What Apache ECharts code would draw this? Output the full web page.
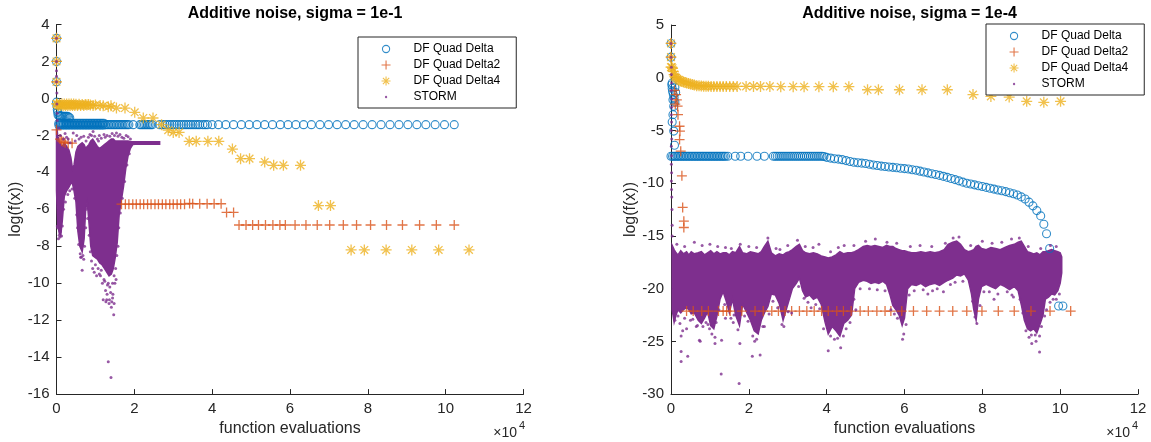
<!DOCTYPE html>
<html><head><meta charset="utf-8">
<style>html,body{margin:0;padding:0;background:#fff}#c{width:1151px;height:442px}</style>
<script src="https://cdn.jsdelivr.net/npm/echarts@6/dist/echarts.min.js"></script>
</head><body><div id="c"></div>
<script>
// ---------- text ----------
const seriesNames = ['DF Quad Delta', 'DF Quad Delta2', 'DF Quad Delta4', 'STORM'];
const titles = ['Additive noise, sigma = 1e-1', 'Additive noise, sigma = 1e-4'];
const xName = 'function evaluations';
const yName = 'log(f(x))';
const xTickLabels = ['0', '2', '4', '6', '8', '10', '12'];

// ---------- left panel (sigma = 1e-1) ----------
const deltaL = [
  [0,3.25],[0,2.0],[0,0.9],[0,-0.2],[100,-0.4],[200,-0.6],[300,-0.75],[400,-0.9],
  [700,-0.95],[1000,-0.95],[1300,-0.95],[1600,-0.97],[1900,-0.97],[2200,-0.97],[2500,-0.97],[2800,-0.97],[3100,-1.0],[3400,-1.05],
  [600,-1.34],[1000,-1.34],[1400,-1.34],[1800,-1.34],[2200,-1.34],[2600,-1.34],[3000,-1.34],[3400,-1.34],[3800,-1.34],[4200,-1.34],
  [4600,-1.34],[5000,-1.34],[5400,-1.34],[5800,-1.34],[6200,-1.34],[6600,-1.34],[7000,-1.34],[7400,-1.34],[7800,-1.34],[8200,-1.34],
  [8600,-1.34],[9000,-1.34],[9400,-1.34],[9800,-1.34],[10200,-1.34],[10600,-1.34],[11000,-1.34],[11400,-1.34],[11800,-1.34],[12200,-1.34],
  [600,-1.44],[1000,-1.44],[1400,-1.44],[1800,-1.44],[2200,-1.44],[2600,-1.44],[3000,-1.44],[3400,-1.44],[3800,-1.44],[4200,-1.44],
  [4600,-1.44],[5000,-1.44],[5400,-1.44],[5800,-1.44],[6200,-1.44],[6600,-1.44],[7000,-1.44],[7400,-1.44],[7800,-1.44],[8200,-1.44],
  [8600,-1.44],[9000,-1.44],[9400,-1.44],[9800,-1.44],[10200,-1.44],[10600,-1.44],[11000,-1.44],[11400,-1.44],[11800,-1.44],[12200,-1.44],
  [12600,-1.42],[13000,-1.42],[13400,-1.42],[13800,-1.42],[14200,-1.42],[14600,-1.42],[15000,-1.42],[15400,-1.42],[15800,-1.42],
  [16200,-1.42],[16600,-1.42],[17000,-1.42],[17400,-1.42],[17800,-1.42],[18200,-1.42],[18600,-1.42],
  [19700,-1.42],[21400,-1.42],[21800,-1.42],[22200,-1.42],[22600,-1.42],[23000,-1.42],[23400,-1.42],[23800,-1.42],[24200,-1.42],[24600,-1.42],
  [26500,-1.42],[27300,-1.42],[27900,-1.42],[28500,-1.42],[29100,-1.42],[29700,-1.42],[30300,-1.42],[30900,-1.42],[31500,-1.42],
  [32100,-1.42],[32700,-1.42],[33300,-1.42],[33900,-1.42],[34500,-1.42],[35100,-1.42],[35700,-1.42],[36300,-1.42],[36800,-1.42],
  [37600,-1.42],[38200,-1.42],[38800,-1.42],[40000,-1.42],
  [41600,-1.42],[43500,-1.42],[45500,-1.42],[47500,-1.42],[49500,-1.42],[51500,-1.42],[53500,-1.42],[55500,-1.42],[57500,-1.42],
  [59500,-1.42],[61500,-1.42],[63500,-1.42],[65500,-1.42],[67700,-1.42],[69900,-1.42],[72100,-1.42],[74300,-1.42],[76500,-1.42],
  [78800,-1.42],[81100,-1.42],[83400,-1.42],[85700,-1.42],[88000,-1.42],[90300,-1.42],[92600,-1.42],[94900,-1.42],[97300,-1.42],
  [99700,-1.42],[102200,-1.42]
];
const delta2L = [
  [0,3.25],[0,2.0],[0,0.9],[0,-1.7],[900,-2.2],[1300,-2.3],[1700,-2.35],[2200,-2.4],[3000,-2.42],[4000,-2.42],
  [16700,-5.72],[17700,-5.72],[18600,-5.72],[19600,-5.72],[20500,-5.72],[21500,-5.72],[22400,-5.72],[23400,-5.72],[24300,-5.72],
  [25300,-5.72],[26200,-5.72],[27200,-5.72],[28100,-5.72],[29100,-5.72],[30000,-5.72],[31000,-5.72],[31900,-5.72],[32900,-5.72],
  [34200,-5.68],[35000,-5.7],[36800,-5.7],[38700,-5.7],[40500,-5.7],[42300,-5.7],
  [43700,-6.17],[45500,-6.17],
  [46900,-6.85],[48700,-6.85],[50400,-6.85],[51900,-6.85],[53700,-6.85],[55600,-6.85],[57400,-6.85],[58800,-6.85],[61300,-6.85],
  [64100,-6.85],[67000,-6.85],[70200,-6.85],[73700,-6.85],[77100,-6.85],[80700,-6.85],[84800,-6.85],[88900,-6.85],[93300,-6.85],
  [97600,-6.85],[102200,-6.85]
];
const delta4L = [
  [0,3.25],[0,2.0],[0,0.9],[0,-0.3],[200,-0.3],[500,-0.38],[800,-0.3],[1100,-0.38],[1400,-0.3],[1700,-0.38],[2000,-0.3],[2300,-0.38],
  [2600,-0.3],[2900,-0.38],[3200,-0.3],[3500,-0.38],[3800,-0.3],[4100,-0.38],[4400,-0.3],[4700,-0.38],[5000,-0.32],[5400,-0.38],
  [5800,-0.32],[6200,-0.38],[6600,-0.33],[7000,-0.38],[7400,-0.33],[7800,-0.36],[8200,-0.33],[8700,-0.36],[9400,-0.38],[10000,-0.36],
  [11200,-0.38],[12000,-0.4],[13300,-0.45],[14000,-0.4],[15400,-0.52],[17600,-0.52],[20100,-0.75],[22300,-1.06],[24800,-1.06],
  [27000,-1.42],[28700,-1.72],[30000,-1.84],[31500,-1.84],[34100,-2.32],[35900,-2.32],[38900,-2.32],[41700,-2.32],[45200,-2.74],
  [47300,-3.26],[49600,-3.26],[53500,-3.44],[55800,-3.62],[58300,-3.62],[62700,-3.62],[67300,-5.8],[70400,-5.8],
  [75700,-8.2],[79100,-8.2],[84700,-8.2],[91300,-8.2],[98200,-8.2],[106000,-8.2]
];
// STORM left: dense cloud envelope [x, top, bottom] and individual dots
const stormCloudL = [
  [0,-1.3,-5.0],[300,-2.0,-6.8],[700,-2.3,-7.3],[1100,-2.5,-7.4],[1500,-2.6,-6.6],[2000,-2.4,-5.3],[2600,-2.6,-5.0],
  [3200,-2.8,-4.8],[3700,-3.2,-4.6],[4100,-3.8,-4.6],[4500,-3.6,-5.0],[5000,-2.9,-5.6],[5500,-2.6,-7.2],[6000,-2.5,-8.0],
  [6600,-2.4,-8.3],[7100,-2.5,-7.6],[7500,-2.7,-6.0],[7900,-2.6,-5.6],[8300,-2.5,-6.6],[8800,-2.3,-8.0],[9300,-2.2,-8.5],
  [9900,-2.4,-8.6],[10500,-2.6,-8.7],[11100,-2.7,-8.9],[11700,-2.6,-9.0],[12300,-2.5,-9.2],[12900,-2.4,-9.4],[13500,-2.3,-9.6],
  [14100,-2.2,-9.5],[14600,-2.2,-9.2],[15100,-2.3,-8.6],[15600,-2.3,-7.8],[16100,-2.3,-6.3],[16600,-2.3,-5.6],[17200,-2.3,-4.8],
  [17800,-2.3,-3.8],[18400,-2.3,-3.1],[19000,-2.34,-2.7],[19600,-2.34,-2.5],[20200,-2.34,-2.48],[26500,-2.34,-2.48]
];
const stormDotsL = [
  [0,3.25],[0,2.0],[0,0.9],[0,1.5],[0,1.2],[100,0.3],[100,-0.3],[200,-0.8],[200,-1.2],
  [11300,-9.6],[11800,-10.0],[12200,-9.8],[12600,-10.4],[12900,-10.9],[13300,-10.0],[13600,-10.9],[13900,-10.5],[14200,-11.0],
  [14500,-10.6],[14700,-11.7],[15000,-10.0],[15300,-9.8],[12000,-10.9],[10300,-9.6],[9700,-9.4],[13300,-14.25],[14000,-15.1],
  [6600,-9.3],[6200,-8.6],[7000,-8.7],[900,-7.5],[1300,-7.45],[300,-7.0],
  [4300,-1.87],[9400,-1.79],[15400,-1.87],[18400,-2.08],[2200,-1.9],[7000,-2.05],[11500,-2.15],[13000,-2.0],[3000,-2.2],
  [5800,-2.2],[8200,-2.1],[10500,-2.2],[12500,-2.1],[16800,-2.1],[600,-1.6],[1000,-2.0],
  [1800,-2.2],[2600,-2.1],[3500,-2.4],[4800,-2.3],[5200,-2.0],[6300,-2.1],[7600,-2.3],[8600,-1.95],[9000,-2.0],[9800,-2.05],
  [10800,-2.3],[11000,-2.0],[12200,-1.95],[13700,-2.05],[14300,-1.9],[14900,-2.0],[15800,-2.05],[16300,-1.95],[17300,-2.15],
  [17900,-2.0],[19000,-2.2],
  [200,-6.9],[500,-7.6],[700,-7.4],[1000,-7.2],[1500,-6.9],[1800,-6.0],[2300,-5.6],[2900,-5.2],[3400,-5.0],[4000,-4.9],
  [4700,-5.4],[5200,-6.3],[5400,-7.0],[5700,-7.9],[6100,-8.4],[6400,-8.6],[6800,-8.5],[7200,-8.0],[7500,-7.0],[7700,-6.0],
  [8000,-6.5],[8400,-7.4],[8700,-8.3],[9000,-8.8],[9300,-9.2],[10000,-9.0],[10700,-9.2],[11000,-9.5],[11500,-9.3],[12400,-9.9],
  [13100,-10.1],[13700,-10.2],[14400,-10.0],[14800,-9.6],[15200,-9.2],[15500,-8.5],[15800,-8.0],[16000,-7.0],[16400,-6.2],
  [16900,-5.4],[17500,-4.5],[18100,-3.6],[18700,-3.0],[12700,-11.0],[13500,-11.1],[14100,-11.3],[14800,-11.1],[13000,-10.6],
  [14400,-10.8]
];

// ---------- right panel (sigma = 1e-4) ----------
const deltaR = [
  [0,3.25],[0,1.95],[300,-0.5],[200,-0.66],[400,-1.3],[300,-1.0],[600,-1.6],[500,-2.1],[700,-2.7],[500,-3.5],[300,-4.2],
  [700,-5.06],[900,-6.4],[1000,-0.9],[1200,-1.4],[800,-1.9],[1000,-2.3],
  [0,-7.45],[400,-7.45],[800,-7.45],[1200,-7.45],[1600,-7.45],[2000,-7.45],[2400,-7.45],[2800,-7.45],[3200,-7.45],[3600,-7.45],
  [4000,-7.45],[4400,-7.45],[4800,-7.45],[5200,-7.45],[5600,-7.45],[6000,-7.45],[6400,-7.45],[6800,-7.45],[7200,-7.45],[7600,-7.45],
  [8000,-7.45],[8400,-7.45],[8800,-7.45],[9200,-7.45],[9600,-7.45],[10000,-7.45],[10400,-7.45],[10800,-7.45],[11200,-7.45],
  [11600,-7.45],[12000,-7.45],[12400,-7.45],[12800,-7.45],[13200,-7.45],[13600,-7.45],[14000,-7.45],
  [14600,-7.45],[16500,-7.45],[17900,-7.45],[19800,-7.45],[22100,-7.45],[24000,-7.45],[26300,-7.45],
  [26800,-7.45],[27300,-7.45],[27800,-7.45],[28300,-7.45],[28800,-7.45],[29300,-7.45],[29800,-7.45],[30300,-7.45],[30800,-7.45],
  [31300,-7.45],[31800,-7.45],[32300,-7.45],[32800,-7.45],[33300,-7.45],[33800,-7.45],[34300,-7.45],[34800,-7.45],[35300,-7.45],
  [35800,-7.45],[36300,-7.45],[36800,-7.45],[37300,-7.45],[37800,-7.45],[38300,-7.45],[38800,-7.45],[39300,-7.47],
  [40000,-7.55],[41000,-7.62],[42000,-7.68],[43000,-7.72],[44000,-7.77],[45000,-7.86],[46000,-7.94],[47000,-8.02],[48000,-8.06],
  [49000,-8.1],[50000,-8.14],[51000,-8.2],[52000,-8.27],[53000,-8.33],[54000,-8.38],[55000,-8.42],[56000,-8.46],[57000,-8.5],
  [58000,-8.54],[59000,-8.58],[60000,-8.62],[61000,-8.66],[62000,-8.72],[63000,-8.78],[64000,-8.86],[65000,-8.94],[66000,-9.02],
  [67000,-9.1],[68000,-9.18],[69000,-9.26],[70000,-9.35],[71000,-9.45],[72000,-9.56],[73000,-9.66],[74000,-9.78],[75000,-9.9],
  [76000,-10.0],[77000,-10.08],[78000,-10.16],[79000,-10.24],[80000,-10.32],[81000,-10.4],[82000,-10.48],[83000,-10.56],
  [84000,-10.64],[85000,-10.72],[86000,-10.8],[87000,-10.9],[88000,-11.0],[89000,-11.12],[90000,-11.3],[91000,-11.5],
  [92000,-11.8],[93000,-12.15],[94000,-12.6],[95000,-13.1],[95800,-13.9],[96500,-14.8],[97300,-16.2],[99600,-21.65],[100700,-21.65]
];
const delta2R = [
  [0,3.25],[0,1.95],[900,-1.2],[1300,-1.6],[1500,-2.1],[1100,-2.5],[1700,-2.7],[1800,-3.5],[2200,-4.6],[2300,-5.07],
  [2200,-5.86],[2500,-6.96],[2800,-9.3],[3000,-12.3],[3300,-13.6],[3300,-14.2],
  [4000,-22.13],[5700,-22.13],[7900,-22.13],[9600,-22.13],[12200,-22.13],[13400,-22.13],[14300,-22.13],[15200,-22.13],
  [18200,-22.13],[21600,-22.13],[23700,-22.13],[25900,-22.13],[27600,-22.13],[29300,-22.13],[31000,-22.13],[33000,-22.13],
  [34900,-22.13],[36800,-22.13],[38700,-22.13],[40400,-22.13],[42600,-22.13],[44300,-22.13],[46300,-22.13],[48600,-22.13],
  [50700,-22.13],[52900,-22.13],[55000,-22.13],[56500,-22.13],[59300,-22.13],[62300,-22.13],[65700,-22.13],[69000,-22.13],
  [72400,-22.13],[76000,-22.13],[79900,-22.13],[84100,-22.13],[88200,-22.13],[92500,-22.13],[97400,-22.13],[102700,-22.13]
];
const delta4R = [
  [0,3.25],[0,1.95],[0,1.0],[200,1.0],[400,0.9],[600,0.6],[800,0.3],[1000,0.1],[1300,0.0],[1600,-0.1],[2000,-0.2],[2400,-0.3],
  [2800,-0.35],[3200,-0.4],[3600,-0.45],[4000,-0.5],[4500,-0.55],[5000,-0.6],[5500,-0.65],[6000,-0.7],[6600,-0.75],[7200,-0.75],
  [7800,-0.78],[8400,-0.8],[9000,-0.8],[9600,-0.8],[10300,-0.82],[11000,-0.82],[11800,-0.82],[12600,-0.82],[13400,-0.82],
  [14200,-0.82],[15100,-0.82],[16000,-0.82],[17000,-0.82],[19300,-0.82],[21200,-0.82],[23000,-0.82],[25400,-0.82],[28200,-0.85],
  [31400,-0.85],[34200,-0.85],[38000,-0.85],[41700,-0.85],[45700,-0.85],[50500,-1.14],[53300,-1.14],[58700,-1.14],[64500,-1.14],
  [71000,-1.14],[77600,-1.6],[82200,-1.77],[86900,-1.83],[91400,-2.24],[95800,-2.33],[100100,-2.24]
];
const stormCloudR = [
  [300,-15.9,-22.0],[800,-16.3,-23.2],[1300,-16.6,-22.5],[1800,-16.8,-22.0],[2500,-16.4,-22.3],[3200,-16.7,-22.0],[4000,-16.5,-21.8],
  [4600,-16.8,-22.0],[5200,-16.5,-22.4],[6000,-16.7,-22.3],[7000,-16.6,-23.0],[7800,-16.5,-23.3],[8600,-16.8,-22.8],[9400,-16.6,-22.2],
  [10200,-16.4,-23.5],[11000,-16.7,-23.8],[11800,-16.5,-22.6],[12600,-16.7,-21.0],[13400,-16.6,-20.3],[14200,-16.6,-21.2],
  [15000,-16.8,-22.3],[15800,-16.5,-21.0],[16600,-16.6,-22.5],[17600,-16.0,-23.5],[18400,-16.6,-21.5],[19400,-16.7,-22.2],
  [20400,-16.5,-23.0],[21400,-16.6,-24.0],[22400,-16.7,-24.3],[23200,-16.5,-23.0],[24000,-16.0,-22.3],[24900,-15.5,-21.7],
  [25800,-16.6,-20.5],[26800,-16.9,-20.6],[27800,-16.7,-21.4],[28800,-16.8,-23.0],[29600,-16.6,-22.0],[30400,-16.5,-21.0],
  [31200,-16.3,-20.0],[32200,-16.0,-19.5],[33000,-15.8,-19.0],[33800,-16.4,-20.2],[34600,-16.6,-20.8],[35600,-16.7,-20.6],
  [36600,-16.6,-21.0],[37600,-16.7,-20.8],[38600,-16.9,-21.5],[39600,-17.0,-23.2],[40400,-17.1,-24.3],[41400,-17.0,-23.6],
  [42400,-16.8,-24.0],[43400,-16.5,-24.5],[44400,-16.7,-23.3],[45400,-16.6,-23.0],[46400,-16.6,-22.5],[47200,-16.5,-20.0],
  [48200,-16.3,-19.4],[49400,-16.0,-19.2],[50400,-15.9,-19.3],[51400,-16.0,-19.5],[52400,-15.9,-19.4],[53400,-16.0,-19.5],
  [54400,-16.1,-19.3],[55400,-15.9,-19.6],[56200,-16.0,-20.5],[57000,-16.0,-21.6],[57800,-16.2,-22.0],[58600,-16.3,-22.5],
  [59400,-16.4,-23.5],[60000,-16.4,-22.8],[60800,-16.5,-20.0],[61800,-16.6,-19.6],[63000,-16.6,-19.7],[64200,-16.5,-19.5],
  [65400,-16.6,-19.8],[66600,-16.5,-19.6],[67800,-16.6,-19.5],[69000,-16.5,-19.7],[70200,-16.3,-19.4],[71200,-15.8,-19.2],
  [72400,-15.6,-19.0],[73400,-15.5,-18.7],[74400,-15.8,-18.8],[75400,-16.3,-18.6],[76400,-16.5,-19.2],[77200,-16.4,-20.5],
  [77800,-16.3,-22.0],[78400,-16.0,-23.0],[79000,-15.9,-21.0],[79800,-16.2,-19.8],[81000,-16.3,-19.6],[82200,-16.1,-19.8],
  [83400,-16.2,-20.0],[84600,-16.3,-19.6],[85800,-16.1,-19.8],[87000,-15.9,-20.1],[88200,-15.8,-19.8],[89200,-15.6,-20.2],
  [90000,-15.5,-21.5],[90800,-16.0,-23.0],[91600,-16.5,-23.8],[92400,-16.6,-24.0],[93200,-16.7,-23.8],[94000,-16.6,-24.2],
  [94800,-16.8,-23.4],[95600,-16.5,-22.5],[96200,-16.5,-21.0],[97000,-16.4,-20.8],[97800,-16.3,-20.5],[98600,-16.4,-20.6],
  [99400,-16.5,-20.2],[100000,-16.6,-19.5],[100400,-17.0,-18.5]
];
const stormDotsR = [
  [0,3.25],[0,1.95],[100,1.0],[100,0.3],[150,-0.5],[100,-1.2],[200,-2.0],[150,-2.8],[100,-3.5],[150,-4.2],[100,-5.0],[200,-5.8],
  [100,-6.5],[150,-7.4],[100,-8.2],[150,-9.0],[100,-9.8],[150,-10.6],[200,-11.3],[250,-12.5],[300,-14.0],[300,-15.0],
  [2600,-25.97],[2600,-26.9],[4300,-26.4],[2600,-24.5],[7300,-24.9],[11300,-24.6],[11300,-25.2],[13000,-24.9],[12900,-28.1],
  [17700,-25.2],[17500,-29.0],[20900,-26.4],[22900,-26.3],[21500,-25.0],[7500,-25.0],[3000,-24.0],[4000,-23.8],[6500,-23.6],
  [9500,-23.4],[10500,-24.3],[14000,-22.8],[16000,-23.2],[24000,-23.6],[28500,-23.4],[31000,-22.3],[40400,-25.9],[43600,-25.6],
  [42000,-24.8],[44300,-24.5],[59800,-24.3],[59500,-24.8],[78600,-23.3],[92600,-24.4],[94700,-24.5],[92700,-25.2],[94700,-26.0],
  [93800,-25.0],[96500,-22.0],[36000,-21.8],[47500,-22.0],[56500,-22.0],[66000,-20.5],[70000,-20.3],[83000,-21.0],[88000,-20.8],
  [6000,-15.6],[17800,-15.8],[24900,-15.2],[32500,-15.4],[38000,-15.8],[50000,-15.5],[55500,-15.6],[72500,-15.2],[80000,-15.5],
  [89500,-15.2],[99000,-16.0],[1500,-15.8],[12000,-16.0],[27000,-16.2],[44500,-15.9],[64000,-15.9],[85000,-15.6],
  [1000,-23.0],[1800,-22.6],[2300,-23.3],[3500,-22.8],[5000,-23.0],[5600,-22.9],[6800,-23.5],[8200,-23.6],[9000,-23.2],
  [9900,-23.8],[11600,-23.2],[12300,-22.0],[13800,-21.5],[15400,-22.8],[16200,-22.5],[17200,-23.9],[18900,-22.6],[19800,-23.1],
  [21000,-24.5],[22000,-24.8],[23600,-23.6],[25200,-22.4],[26200,-21.2],[27400,-21.8],[29000,-23.6],[30100,-22.2],[32800,-19.8],
  [34200,-20.9],[35200,-21.3],[37200,-21.5],[38200,-21.9],[39200,-23.8],[41000,-24.5],[42800,-24.7],[45000,-23.8],[46000,-23.2],
  [47000,-21.0],[48600,-20.0],[51000,-20.0],[53000,-20.1],[55000,-20.2],[57400,-22.4],[58200,-22.8],[60400,-23.4],[61200,-20.6],
  [62500,-20.2],[64800,-20.1],[67200,-20.2],[68400,-20.0],[71800,-19.6],[73000,-19.4],[75000,-19.3],[77500,-21.2],[78100,-22.7],
  [79400,-21.6],[80400,-20.3],[81800,-20.3],[84000,-20.5],[86400,-20.3],[87600,-20.6],[89700,-21.0],[90400,-22.3],[91200,-24.0],
  [92000,-24.6],[93600,-24.4],[95200,-23.6],[96000,-22.6],[97400,-21.3],[98200,-21.0],[99000,-21.0],[99800,-20.5],
  [3500,-16.0],[8000,-15.9],[10000,-15.8],[14000,-16.1],[15500,-16.2],[20000,-16.0],[22000,-16.1],[28000,-16.3],[30000,-15.9],
  [34500,-16.0],[36500,-16.1],[41000,-16.5],[43000,-16.1],[47000,-15.9],[52500,-15.3],[58000,-15.7],[61500,-16.0],[67000,-16.0],
  [70500,-15.7],[74000,-15.1],[77000,-15.9],[82500,-15.7],[87500,-15.3],[91800,-16.0],[95000,-16.2],[97500,-15.9]
];

// ---------- styling ----------
const FONT = '"Liberation Sans", Arial, Helvetica, sans-serif';
const INK = '#262626';
const C_BLUE = '#0072BD', C_ORANGE = '#D95319', C_YELLOW = '#EDB120', C_PURPLE = '#7E2F8E';
const PLUS = 'path://M0,5L10,5M5,0L5,10';
const STAR = 'path://M5,0L5,10M0,5L10,5M1.5,1.5L8.5,8.5M1.5,8.5L8.5,1.5';
const DOT_ICON = 'path://M0,0L0,0M10,10L10,10M3.7,5A1.3,1.3,0,1,1,6.3,5A1.3,1.3,0,1,1,3.7,5Z';
const CIRCLE_ICON = 'path://M0,0L0,0M10,10L10,10M1,5A4,4,0,1,1,9,5A4,4,0,1,1,1,5Z';

const grids = [
  {left: 56.5, top: 24.5, width: 467, height: 370.5},
  {left: 671, top: 25, width: 467, height: 371}
];
const yRanges = [{min: -16, max: 4, interval: 2}, {min: -30, max: 5, interval: 5}];

function xAxis(gi) {
  return {
    type: 'value', gridIndex: gi, min: 0, max: 120000, interval: 20000,
    name: xName, nameLocation: 'middle', nameGap: 26,
    nameTextStyle: {fontSize: 16, color: INK, fontFamily: FONT},
    axisLine: {show: true, onZero: false, lineStyle: {color: INK, width: 1}},
    axisTick: {show: true, inside: true, length: 5, lineStyle: {color: INK}},
    axisLabel: {fontSize: 15, color: INK, fontFamily: FONT, margin: 7, formatter: (v, i) => xTickLabels[i]},
    splitLine: {show: false}
  };
}
function yAxis(gi) {
  return Object.assign({
    type: 'value', gridIndex: gi,
    name: yName, nameLocation: 'middle', nameGap: 32, nameRotate: 90,
    nameTextStyle: {fontSize: 16, color: INK, fontFamily: FONT},
    axisLine: {show: true, onZero: false, lineStyle: {color: INK, width: 1}},
    axisTick: {show: true, inside: true, length: 5, lineStyle: {color: INK}},
    axisLabel: {fontSize: 15, color: INK, fontFamily: FONT, margin: 7},
    splitLine: {show: false}
  }, yRanges[gi]);
}

function cloud(gi, env) {
  return {
    type: 'custom', name: '_cloud' + gi, xAxisIndex: gi, yAxisIndex: gi, silent: true,
    data: [[0, 0]],
    renderItem: (params, api) => {
      const top = env.map(p => api.coord([p[0], p[1]]));
      const bot = env.slice().reverse().map(p => api.coord([p[0], p[2]]));
      return {type: 'polygon', shape: {points: top.concat(bot)}, style: {fill: C_PURPLE, stroke: C_PURPLE, lineWidth: 1.5}};
    }
  };
}
function panelSeries(gi, d1, d2, d4, env, dots) {
  return [
    {type: 'scatter', name: seriesNames[0], xAxisIndex: gi, yAxisIndex: gi, data: d1, symbol: 'circle', symbolSize: 8,
     itemStyle: {color: 'rgba(0,0,0,0)', borderColor: C_BLUE, borderWidth: 1.1}},
    {type: 'scatter', name: seriesNames[1], xAxisIndex: gi, yAxisIndex: gi, data: d2, symbol: PLUS, symbolSize: 10,
     itemStyle: {color: C_ORANGE, borderColor: C_ORANGE, borderWidth: 1.3}},
    {type: 'scatter', name: seriesNames[2], xAxisIndex: gi, yAxisIndex: gi, data: d4, symbol: STAR, symbolSize: 11,
     itemStyle: {color: C_YELLOW, borderColor: C_YELLOW, borderWidth: 1.3}},
    cloud(gi, env),
    {type: 'scatter', name: seriesNames[3], xAxisIndex: gi, yAxisIndex: gi, data: dots, symbol: 'circle', symbolSize: 3,
     itemStyle: {color: C_PURPLE}}
  ];
}
function legend(left, top) {
  return {
    data: [
      {name: seriesNames[0], icon: CIRCLE_ICON},
      {name: seriesNames[1], icon: PLUS},
      {name: seriesNames[2], icon: STAR},
      {name: seriesNames[3], icon: DOT_ICON}
    ],
    orient: 'vertical', left: left, top: top,
    backgroundColor: '#fff', borderColor: INK, borderWidth: 1, borderRadius: 0,
    padding: [6, 16, 5, 23], itemWidth: 9, itemHeight: 9, itemGap: 4, symbolKeepAspect: true,
    formatter: name => '{n|' + name + '}',
    textStyle: {fontSize: 12, lineHeight: 12, color: '#000', fontFamily: FONT,
      rich: {n: {fontSize: 12, lineHeight: 12, color: '#000', fontFamily: FONT, padding: [0, 0, 0, 18]}}},
    itemStyle: {borderWidth: 1.1}, selectedMode: false
  };
}

const option = {
  animation: false,
  backgroundColor: '#fff',
  title: [
    {text: titles[0], left: 290, top: 1, textAlign: 'center', textStyle: {fontSize: 16, fontWeight: 'bold', color: '#000', fontFamily: FONT}},
    {text: titles[1], left: 904.5, top: 1, textAlign: 'center', textStyle: {fontSize: 16, fontWeight: 'bold', color: '#000', fontFamily: FONT}}
  ],
  grid: grids,
  xAxis: [xAxis(0), xAxis(1)],
  yAxis: [yAxis(0), yAxis(1)],
  legend: [legend(358, 37), legend(986, 24)],
  graphic: [
    {type: 'text', x: 517, y: 433, style: {text: '×10', font: '14px ' + FONT, fill: INK, textAlign: 'right', textVerticalAlign: 'middle'}},
    {type: 'text', x: 519, y: 426, style: {text: '4', font: '11px ' + FONT, fill: INK, textAlign: 'left', textVerticalAlign: 'middle'}},
    {type: 'text', x: 1130, y: 433, style: {text: '×10', font: '14px ' + FONT, fill: INK, textAlign: 'right', textVerticalAlign: 'middle'}},
    {type: 'text', x: 1132, y: 426, style: {text: '4', font: '11px ' + FONT, fill: INK, textAlign: 'left', textVerticalAlign: 'middle'}}
  ],
  series: panelSeries(0, deltaL, delta2L, delta4L, stormCloudL, stormDotsL)
    .concat(panelSeries(1, deltaR, delta2R, delta4R, stormCloudR, stormDotsR))
};
const chart = echarts.init(document.getElementById('c'), null, {renderer: 'canvas', width: 1151, height: 442});
chart.setOption(option);
</script>
</body></html>
